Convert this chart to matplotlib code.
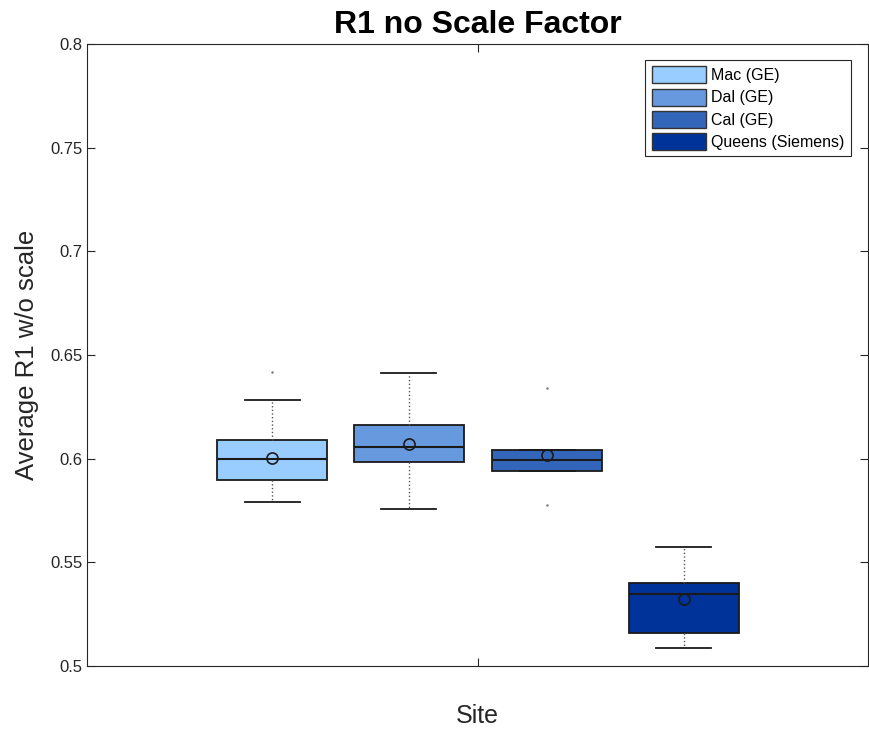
import matplotlib
matplotlib.use('Agg')
import matplotlib.pyplot as plt
from matplotlib.patches import Patch

plt.rcParams['font.family'] = ['Liberation Sans', 'DejaVu Sans']

# 사이트별 박스플롯 통계
sites = ['Mac (GE)', 'Dal (GE)', 'Cal (GE)', 'Queens (Siemens)']
q1 = [0.5897, 0.5984, 0.5940, 0.5159]
q3 = [0.6090, 0.6162, 0.6041, 0.5400]
medians = [0.5998, 0.6056, 0.5993, 0.5347]
means = [0.6003, 0.6070, 0.6017, 0.5323]
whisker_low = [0.5791, 0.5757, 0.5940, 0.5086]
whisker_high = [0.6283, 0.6413, 0.6041, 0.5574]
outliers = [[0.6418], [], [0.6340, 0.5776], []]
colors = ['#99CCFF', '#6699DD', '#3366BB', '#003399']

positions = [0.237, 0.412, 0.589, 0.764]
box_width = 0.141

fig = plt.figure(figsize=(8.7, 7.3), dpi=100)
ax = fig.add_axes([0.1, 0.0877, 0.898, 0.852])

stats = []
for i in range(len(sites)):
    stats.append({
        'med': medians[i], 'q1': q1[i], 'q3': q3[i],
        'whislo': whisker_low[i], 'whishi': whisker_high[i],
        'mean': means[i], 'fliers': outliers[i], 'label': sites[i],
    })

bp = ax.bxp(stats, positions=positions, widths=box_width, patch_artist=True,
            showmeans=True, manage_ticks=False,
            boxprops=dict(edgecolor='#1a1a1a', linewidth=1.3),
            medianprops=dict(color='#1a1a1a', linewidth=1.5),
            whiskerprops=dict(color='#555555', linestyle=':', linewidth=1.0),
            capprops=dict(color='#1a1a1a', linewidth=1.3),
            capwidths=box_width / 2,
            meanprops=dict(marker='o', markerfacecolor='none', markeredgecolor='#1a1a1a',
                           markersize=8, markeredgewidth=1.2),
            flierprops=dict(marker='.', markersize=1.5, markerfacecolor='#777777',
                            markeredgecolor='#777777'))
for patch, c in zip(bp['boxes'], colors):
    patch.set_facecolor(c)

ax.set_xlim(0, 1)
ax.set_ylim(0.5, 0.8)
ax.set_xticks([0.5])
ax.set_xticklabels([''])
ax.set_yticks([0.5, 0.55, 0.6, 0.65, 0.7, 0.75, 0.8])
ax.set_yticklabels(['0.5', '0.55', '0.6', '0.65', '0.7', '0.75', '0.8'])
ax.tick_params(direction='in', top=True, right=True, length=6, labelsize=12,
               colors='#262626', width=0.8)
for s in ax.spines.values():
    s.set_color('#262626')
    s.set_linewidth(0.8)

ax.set_title('R1 no Scale Factor', fontsize=23, fontweight='bold', pad=8)
ax.set_ylabel('Average R1 w/o scale', fontsize=18.5, color='#262626', labelpad=8)
ax.set_xlabel('Site', fontsize=18, color='#262626', labelpad=24)

handles = [Patch(facecolor=c, edgecolor='#333333', label=s) for c, s in zip(colors, sites)]
leg = ax.legend(handles=handles, loc='upper right', bbox_to_anchor=(0.9875, 0.987),
                fontsize=11.5, fancybox=False, framealpha=1, edgecolor='#262626',
                handlelength=3.4, handleheight=1.25, handletextpad=0.3,
                labelspacing=0.33, borderpad=0.4)
leg.get_frame().set_linewidth(0.8)

fig.savefig('out.png', dpi=100)
